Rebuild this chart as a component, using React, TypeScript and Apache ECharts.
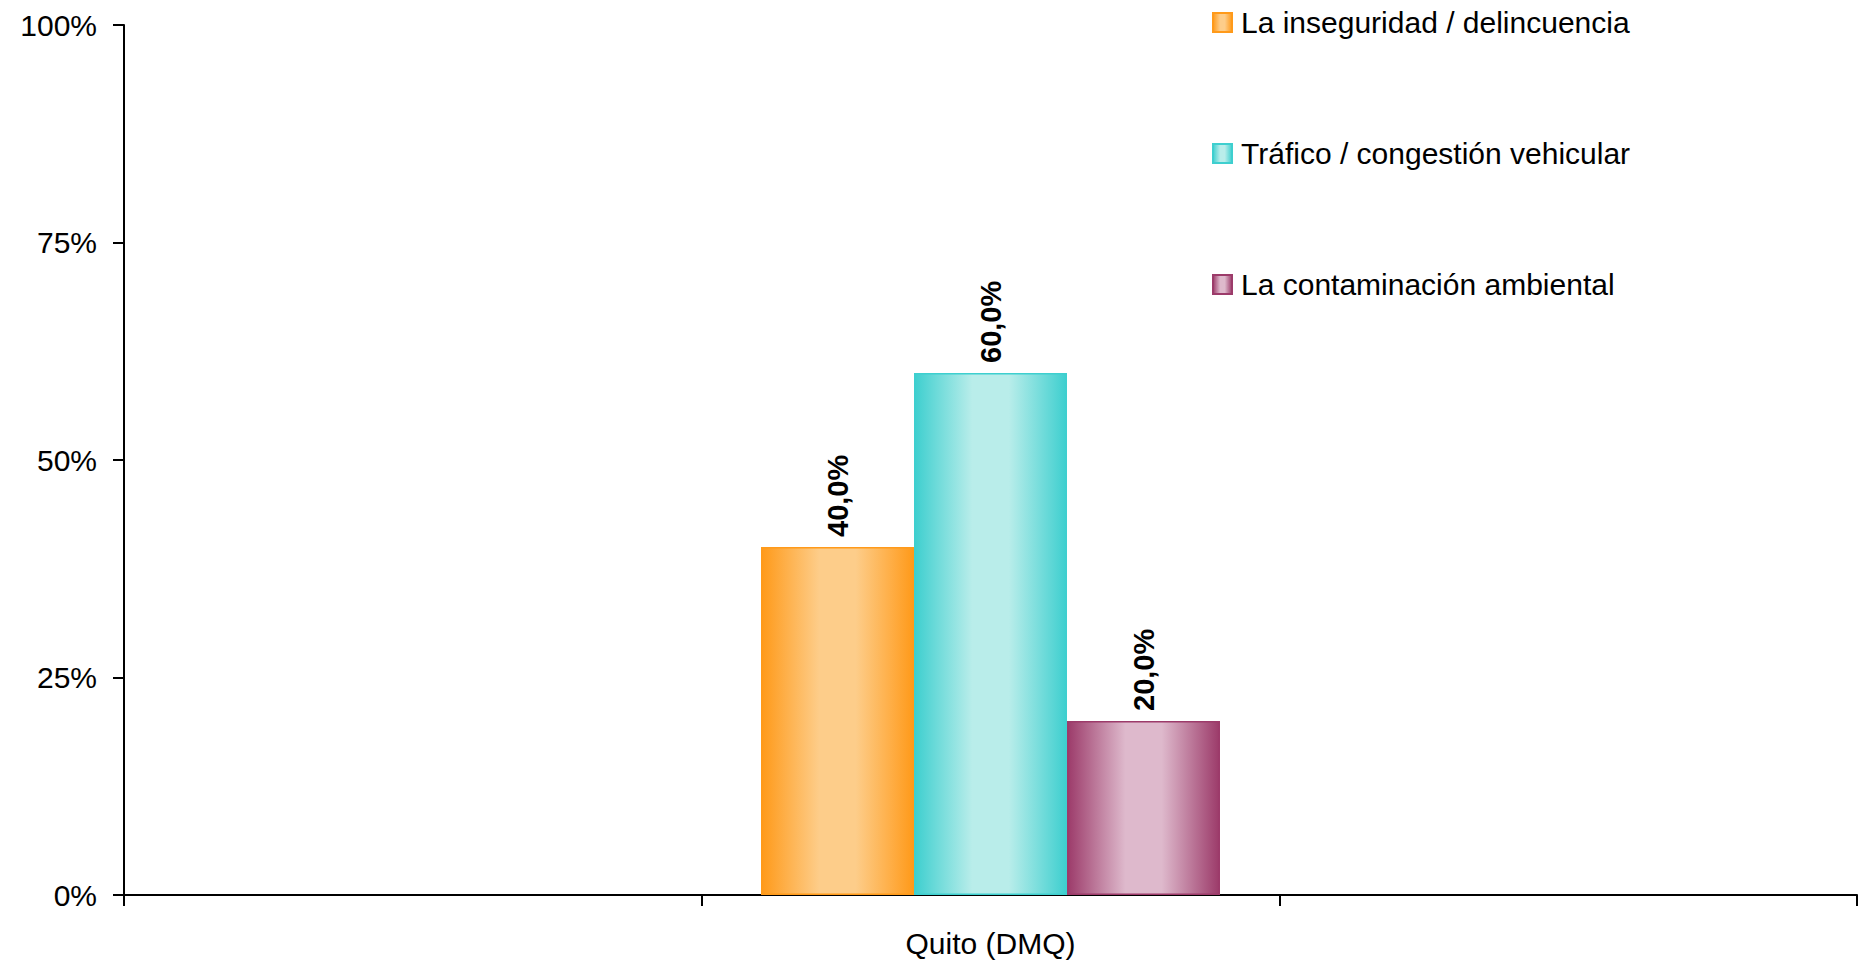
import React, { useEffect, useRef } from "react";
import * as echarts from "echarts";

const categories = ["", "Quito (DMQ)", ""];
const seriesNames = [
  "La inseguridad / delincuencia",
  "Tráfico / congestión vehicular",
  "La contaminación ambiental",
];
const inseguridad = [null, 40, null];
const trafico = [null, 60, null];
const contaminacion = [null, 20, null];
const yTicks = { min: 0, max: 100, interval: 25 };

const palettes = [
  { edge: "#FF9A1A", mid: "#FDCD8A" },
  { edge: "#3ECFCF", mid: "#B9EDEA" },
  { edge: "#9C3B6A", mid: "#DEB9CC" },
];

const grad = (edge: string, mid: string) =>
  new echarts.graphic.LinearGradient(1, 0, 0, 0, [
    { offset: 0, color: edge },
    { offset: 0.38, color: mid },
    { offset: 0.62, color: mid },
    { offset: 1, color: edge },
  ]);

const FONT = "'Liberation Sans', Arial, Helvetica, sans-serif";

export default function App() {
  const ref = useRef<HTMLDivElement>(null);
  useEffect(() => {
    if (!ref.current) return;
    const chart = echarts.init(ref.current, null, { renderer: "svg" });
    const datas = [inseguridad, trafico, contaminacion];
    chart.setOption({
      animation: false,
      textStyle: { fontFamily: FONT },
      grid: { left: 124, right: 9, top: 25, bottom: 67, containLabel: false },
      legend: {
        orient: "vertical",
        left: 1207,
        top: 2,
        itemWidth: 19,
        itemHeight: 19,
        itemGap: 100,
        icon: "rect",
        textStyle: {
          fontSize: 30,
          color: "#000",
          fontFamily: FONT,
          lineHeight: 31,
          padding: [0, 0, 0, 4],
        },
        data: seriesNames,
      },
      xAxis: {
        type: "category",
        data: categories,
        boundaryGap: true,
        axisLine: { lineStyle: { color: "#000", width: 2 } },
        axisTick: { show: true, length: 11, lineStyle: { color: "#000", width: 2 } },
        axisLabel: { color: "#000", fontSize: 30, margin: 33, fontFamily: FONT },
        splitLine: { show: false },
      },
      yAxis: {
        type: "value",
        min: yTicks.min,
        max: yTicks.max,
        interval: yTicks.interval,
        axisLine: { show: true, lineStyle: { color: "#000", width: 2 } },
        axisTick: { show: true, length: 11, lineStyle: { color: "#000", width: 2 } },
        axisLabel: { color: "#000", fontSize: 30, margin: 27, formatter: "{value}%", fontFamily: FONT },
        splitLine: { show: false },
      },
      series: seriesNames.map((name, i) => ({
        name,
        type: "bar",
        data: datas[i],
        barWidth: 153,
        barGap: "0%",
        itemStyle: {
          color: grad(palettes[i].edge, palettes[i].mid),
          borderColor: palettes[i].edge,
          borderWidth: 1.5,
        },
        label: {
          show: true,
          position: "top",
          rotate: 90,
          align: "left",
          verticalAlign: "middle",
          distance: 10,
          fontSize: 29,
          fontWeight: "bold",
          color: "#000",
          fontFamily: FONT,
          formatter: (p: any) => p.value.toFixed(1).replace(".", ",") + "%",
        },
      })),
    });
    return () => chart.dispose();
  }, []);
  return (
    <div
      ref={ref}
      style={{ width: 1866, height: 962, position: "absolute", left: 0, top: 0, background: "#fff" }}
    />
  );
}
